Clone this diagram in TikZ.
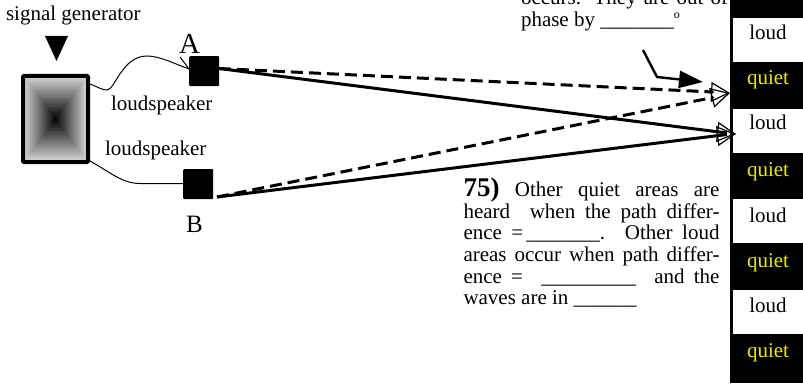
\documentclass[tikz,border=0pt]{standalone}
\usepackage{fontspec}
\setmainfont{Liberation Serif}
\usetikzlibrary{arrows.meta}
\definecolor{quietyellow}{RGB}{235,235,0}
\tikzset{
  txt/.style={inner sep=0pt,outer sep=0pt,anchor=base west,font=\fontsize{21}{21.6}\selectfont},
  celltxt/.style={inner sep=0pt,outer sep=0pt,anchor=base,font=\fontsize{21}{21.6}\selectfont},
  whitecell/.style={fill=white,draw=none,inner sep=0pt,minimum width=72pt,minimum height=44pt,anchor=north west},
  speaker/.style={fill=black,draw=none,rounded corners=1pt,minimum size=30pt,inner sep=0pt,anchor=north west},
  cable/.style={draw=black,line width=1pt},
  beam/.style={line width=3pt},
  dashbeam/.style={line width=3pt,dash pattern=on 12pt off 6pt},
  openhead/.style={-{Triangle[open,length=19pt,width=20pt,line width=1.2pt]},line width=1.2pt}
}
\begin{document}
\begin{tikzpicture}[x=1pt,y=-1pt]
\useasboundingbox (0,0) rectangle (803,385);
\clip (0,0) rectangle (803,385);
\fill[white] (0,0) rectangle (803,385);
% column
\fill[black] (730,0) rectangle (803,383);
\node[whitecell] (c1) at (733,18) {};
\node[whitecell] (c2) at (733,108.5) {};
\node[whitecell] (c3) at (733,199) {};
\node[whitecell] (c4) at (733,290) {};
\node[celltxt] at (768,40) {loud};
\node[celltxt,text=quietyellow] at (768,85) {quiet};
\node[celltxt] at (768,130) {loud};
\node[celltxt,text=quietyellow] at (768,176) {quiet};
\node[celltxt] at (768,222) {loud};
\node[celltxt,text=quietyellow] at (768,267) {quiet};
\node[celltxt] at (768,312) {loud};
\node[celltxt,text=quietyellow] at (768,357) {quiet};
% generator
\foreach \i in {0,...,30}{
  \pgfmathsetmacro{\f}{1-\i/31}
  \pgfmathsetmacro{\g}{80*\f}
  \fill[white!\g!black] ({55.5-30.5*\f},{119-41*\f}) rectangle ({55.5+30.5*\f},{119+41*\f});
}
\node[draw=black,line width=4pt,rounded corners=1pt,minimum width=65pt,minimum height=86pt,inner sep=0pt,anchor=center] (gen) at (55.5,119) {};
% pointer triangle
\fill[black] (45,36) -- (68,36) -- (56.5,61) -- cycle;
% speakers
\node[speaker] (A) at (189,56) {};
\node[speaker] (B) at (183,169) {};
% cables
\coordinate (gA) at (90,84);
\coordinate (gB) at (90,161);
\coordinate (hook) at (180,57);
\coordinate (Ain) at (189,69);
\coordinate (Bin) at (183,183.5);
\draw[cable] (gA) .. controls (98,87) and (102,90) .. (107,90) .. controls (115,90) and (122,56) .. (147,56) .. controls (160,56) and (175,64) .. (Ain);
\draw[cable] (hook) -- (Ain);
\draw[cable] (gB) .. controls (110,172) and (122,183.5) .. (140,183.5) -- (Bin);
% beams
\coordinate (As) at (219,68.5);
\coordinate (Bs) at (217,197);
\coordinate (T1) at (730,93);
\coordinate (T2) at (736,134);
\draw[beam] (As) -- (727,133);
\draw[beam] (Bs) -- (727,134.5);
\draw[dashbeam] (As) -- (713,92);
\draw[dashbeam] (Bs) -- (713,97.5);
\draw[openhead] (714,92.2) -- (T1);
\draw[openhead] (714,97.2) -- (T1);
\draw[openhead] (718,132) -- (T2);
\draw[openhead] (718,136) -- (T2);
% bent arrow
\coordinate (b1) at (643,50);
\coordinate (b2) at (657,77);
\coordinate (b3) at (703,82);
\draw[line width=2.4pt,-{Triangle[length=24pt,width=17pt]}] (b1) -- (b2) -- (b3);
% labels
\node[txt] (sg) at (6,21) {signal generator};
\node[txt,font=\fontsize{29}{29}\selectfont] (la) at (179,54) {A};
\node[txt,font=\fontsize{25}{25}\selectfont] (lb) at (186,232) {B};
\node[txt] (l1) at (111,110.5) {loudspeaker};
\node[txt] (l2) at (105,155) {loudspeaker};
\node[txt] (t1) at (521,5) {\makebox[207pt][s]{occurs. They are out of}};
\node[txt] (t2) at (521,27) {phase by \_\_\_\_\_\_\_\raisebox{8pt}{\fontsize{12}{12}\selectfont o}};
\node[inner sep=0pt,outer sep=0pt,anchor=north west,text width=256pt,align=justify,font=\fontsize{21}{21.6}\selectfont] (q) at (463.5,178)
{\lineskiplimit=-20pt\relax {\fontsize{27}{27}\selectfont\bfseries 75)} Other quiet areas are\linebreak
heard \ when the path differ-\linebreak
ence =\kern3pt\_\_\_\_\_\_\_. Other loud\linebreak
areas occur when path differ-\linebreak
ence = \ \_\_\_\_\_\_\_\_\_ \ and the\linebreak
waves are in \_\_\_\_\_\_};
\end{tikzpicture}
\end{document}
